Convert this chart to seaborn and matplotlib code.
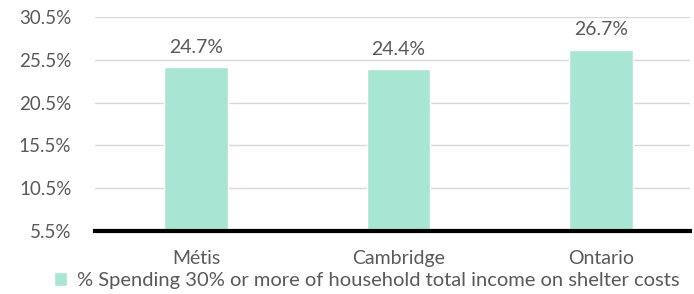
import pandas as pd
import matplotlib.pyplot as plt
import seaborn as sns

regions = ['Métis', 'Cambridge', 'Ontario']
values = [24.7, 24.4, 26.7]
series = '% Spending 30% or more of household total income on shelter costs'
yticks = [5.5, 10.5, 15.5, 20.5, 25.5, 30.5]

df = pd.DataFrame({'region': regions, 'value': values, 'series': series})

sns.set_style('white')
plt.rcParams['font.family'] = ['Lato', 'DejaVu Sans']
txt = '#595959'

fig = plt.figure(figsize=(6.94, 2.94), dpi=100)
ax = fig.add_axes([95/694, 1-231/294, (690-95)/694, (231-17)/294])

sns.barplot(data=df, x='region', y='value', hue='series', palette=['#A9E5D3'],
            width=0.315, ax=ax, saturation=1, zorder=2)

ax.set_ylim(5.5, 30.5)
ax.set_xlim(-0.5, 2.44)
ax.set_yticks(yticks)
ax.set_yticklabels([f'{t:.1f}%' for t in yticks], color=txt, fontsize=13.5)
ax.set_xticks(range(len(regions)))
ax.set_xticklabels(regions, color=txt, fontsize=14)
ax.tick_params(length=0, axis='y', pad=17)
ax.tick_params(length=0, axis='x', pad=14)
ax.set_xlabel('')
ax.set_ylabel('')
ax.grid(axis='y', color='#D9D9D9', linewidth=1, zorder=0)
for s in ['top', 'right', 'left']:
    ax.spines[s].set_visible(False)
ax.spines['bottom'].set_color('black')
ax.spines['bottom'].set_linewidth(3)
ax.spines['bottom'].set_zorder(3)

for i, v in enumerate(values):
    ax.annotate(f'{v:.1f}%', (i, v), xytext=(0, 8), textcoords='offset points',
                ha='center', va='bottom', color=txt, fontsize=14)

leg = ax.legend(loc='center left', bbox_to_anchor=(-0.083, -0.232), frameon=False,
                fontsize=14.5, handlelength=0.65, handleheight=0.65, handletextpad=0.5,
                borderaxespad=0, labelcolor=txt)

fig.savefig('out.png', dpi=100)
